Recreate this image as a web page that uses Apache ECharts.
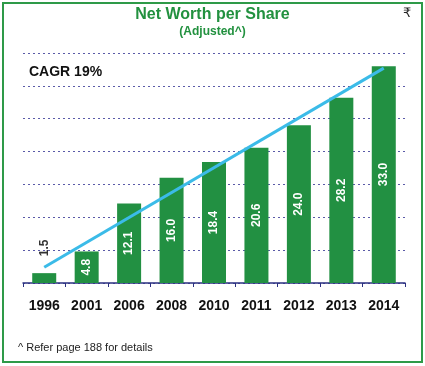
<!DOCTYPE html>
<html>
<head>
<meta charset="utf-8">
<script src="https://cdn.jsdelivr.net/npm/echarts@6/dist/echarts.min.js"></script>
<style>html,body{margin:0;padding:0;background:#fff;}#c{width:425px;height:366px;}</style>
</head>
<body>
<div id="c"></div>
<script>
const categories = ['1996','2001','2006','2008','2010','2011','2012','2013','2014'];
const netWorth = [1.5, 4.8, 12.1, 16.0, 18.4, 20.6, 24.0, 28.2, 33.0];
const trend = [2.4, null, null, null, null, null, null, null, 32.7];

const chart = echarts.init(document.getElementById('c'), null, {renderer: 'canvas'});
const green = '#22913f';
chart.setOption({
  animation: false,
  backgroundColor: '#fff',
  textStyle: {fontFamily: 'Liberation Sans, Arial, sans-serif'},
  grid: {left: 23, right: 20, top: 53, bottom: 83},
  graphic: [
    {type: 'rect', shape: {x: 3, y: 3, width: 419, height: 359}, style: {fill: 'none', stroke: '#2e9a48', lineWidth: 2}},
    {type: 'text', left: 'center', top: 7, style: {text: 'Net Worth per Share', fill: green, font: 'bold 16px Liberation Sans, Arial, sans-serif'}},
    {type: 'text', left: 'center', top: 26, style: {text: '(Adjusted^)', fill: green, font: 'bold 12px Liberation Sans, Arial, sans-serif'}},
    {type: 'text', left: 403, top: 7, style: {text: '₹', fill: '#222', font: '13px DejaVu Sans, sans-serif'}},
    {type: 'text', left: 29, top: 65, style: {text: 'CAGR 19%', fill: '#111', font: 'bold 14px Liberation Sans, Arial, sans-serif'}},
    {type: 'text', left: 18, top: 342, style: {text: '^ Refer page 188 for details', fill: '#222', font: '11px Liberation Sans, Arial, sans-serif'}}
  ],
  xAxis: {
    type: 'category',
    data: categories,
    axisLine: {lineStyle: {color: '#2b3080', width: 1.5}},
    axisTick: {show: true, length: 4, lineStyle: {color: '#2b3080'}},
    axisLabel: {color: '#111', fontWeight: 'bold', fontSize: 14, margin: 16}
  },
  yAxis: {
    type: 'value',
    min: 0, max: 35, interval: 5,
    axisLabel: {show: false},
    axisLine: {show: false},
    axisTick: {show: false},
    splitLine: {lineStyle: {color: '#5a5aa8', type: [2, 3], width: 1}}
  },
  series: [
    {
      type: 'bar',
      data: netWorth.map((v, i) => i === 0
        ? {value: v, label: {position: 'top', color: '#333', distance: 17, align: 'left', verticalAlign: 'middle'}}
        : v),
      barWidth: 24,
      itemStyle: {color: '#229042'},
      label: {
        show: true, position: 'inside', rotate: 90, color: '#fff',
        fontWeight: 'bold', fontSize: 12,
        formatter: p => p.value.toFixed(1)
      }
    },
    {
      type: 'line',
      data: trend,
      connectNulls: true,
      symbol: 'none',
      lineStyle: {color: '#3bbbe8', width: 3},
      z: 5
    }
  ]
});
</script>
</body>
</html>
